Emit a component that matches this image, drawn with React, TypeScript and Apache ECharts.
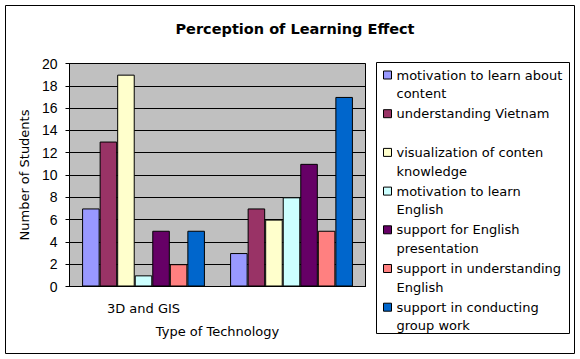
import React, { useEffect, useRef } from "react";
import * as echarts from "echarts";

const categories = ["3D and GIS", "collaboration website"];
const seriesNames = [
  "motivation to learn about\ncontent",
  "understanding Vietnam\n ",
  "visualization of conten\nknowledge",
  "motivation to learn\nEnglish",
  "support for English\npresentation",
  "support in understanding\nEnglish",
  "support in conducting\ngroup work",
];
const seriesColors = ["#9999FF", "#993366", "#FFFFCC", "#CCFFFF", "#660066", "#FF8080", "#0066CC"];
const motivationContent = [7, 3];
const understandingVietnam = [13, 7];
const visualization = [19, 6];
const motivationEnglish = [1, 8];
const supportPresentation = [5, 11];
const supportUnderstanding = [2, 5];
const supportGroupWork = [5, 17];
const seriesValues = [
  motivationContent,
  understandingVietnam,
  visualization,
  motivationEnglish,
  supportPresentation,
  supportUnderstanding,
  supportGroupWork,
];
const yTicks = { min: 0, max: 20, interval: 2 };

const FONT = "'DejaVu Sans', sans-serif";
const NUMFONT = "'Liberation Sans', Arial, sans-serif";

export default function App() {
  const ref = useRef<HTMLDivElement>(null);
  useEffect(() => {
    document.body.style.margin = "0";
    const chart = echarts.init(ref.current!, null, { renderer: "svg" });
    const LH = 18.7;
    chart.setOption({
      animation: false,
      backgroundColor: "#ffffff",
      textStyle: { fontFamily: FONT },
      title: {
        text: "Perception of Learning Effect",
        left: 290,
        top: 16,
        textAlign: "center",
        textStyle: { fontFamily: FONT, fontSize: 14.5, fontWeight: "bold", color: "#000" },
      },
      graphic: [
        {
          type: "rect",
          shape: { x: 5.5, y: 5.5, width: 569, height: 348 },
          style: { fill: "none", stroke: "#000", lineWidth: 1 },
          silent: true,
        },
        {
          type: "rect",
          shape: { x: 69.5, y: 63.5, width: 296, height: 223 },
          style: { fill: "none", stroke: "#808080", lineWidth: 1 },
          silent: true,
          z: -1,
        },
        {
          type: "rect",
          shape: { x: 376.5, y: 62.5, width: 193, height: 271 },
          style: { fill: "#fff", stroke: "#000", lineWidth: 1 },
          silent: true,
          z: -1,
        },
      ],
      legend: {
        orient: "vertical",
        left: 383,
        top: 75 - 1.5 * LH,
        padding: 0,
        itemWidth: 8,
        itemHeight: 8,
        itemGap: 38.7 - 3 * LH,
        icon: "rect",
        itemStyle: { borderColor: "#000", borderWidth: 1 },
        formatter: (name: string) => " \n" + name,
        textStyle: {
          fontFamily: FONT,
          fontSize: 13,
          color: "#000",
          lineHeight: LH,
        },
        data: seriesNames,
      },
      grid: { left: 69.5, top: 63.5, width: 296, height: 223, show: true, backgroundColor: "#C0C0C0", borderWidth: 0 },
      xAxis: {
        type: "category",
        data: categories,
        axisLine: { lineStyle: { color: "#000", width: 1 } },
        axisTick: { show: false },
        splitLine: { show: true, lineStyle: { color: "#000", width: 1 } },
        axisLabel: { color: "#000", fontSize: 13, fontFamily: FONT, margin: 15 },
        name: "Type of Technology",
        nameLocation: "middle",
        nameGap: 38,
        nameTextStyle: { color: "#000", fontSize: 13, fontFamily: FONT },
      },
      yAxis: {
        type: "value",
        min: yTicks.min,
        max: yTicks.max,
        interval: yTicks.interval,
        axisLine: { show: true, lineStyle: { color: "#000", width: 1 } },
        axisTick: { show: true, length: 4, lineStyle: { color: "#000" } },
        splitLine: { show: true, lineStyle: { color: "#000", width: 1 } },
        axisLabel: { color: "#000", fontSize: 14, fontFamily: NUMFONT, margin: 12 },
        name: "Number of Students",
        nameLocation: "middle",
        nameGap: 36,
        nameRotate: 90,
        nameTextStyle: { color: "#000", fontSize: 13, fontFamily: FONT },
      },
      series: seriesNames.map((name, i) => ({
        type: "bar",
        name,
        data: seriesValues[i],
        barGap: "0%",
        barCategoryGap: "17%",
        itemStyle: { color: seriesColors[i], borderColor: "#000", borderWidth: 1 },
      })),
    });
    return () => chart.dispose();
  }, []);
  return <div ref={ref} style={{ width: 580, height: 359 }} />;
}
